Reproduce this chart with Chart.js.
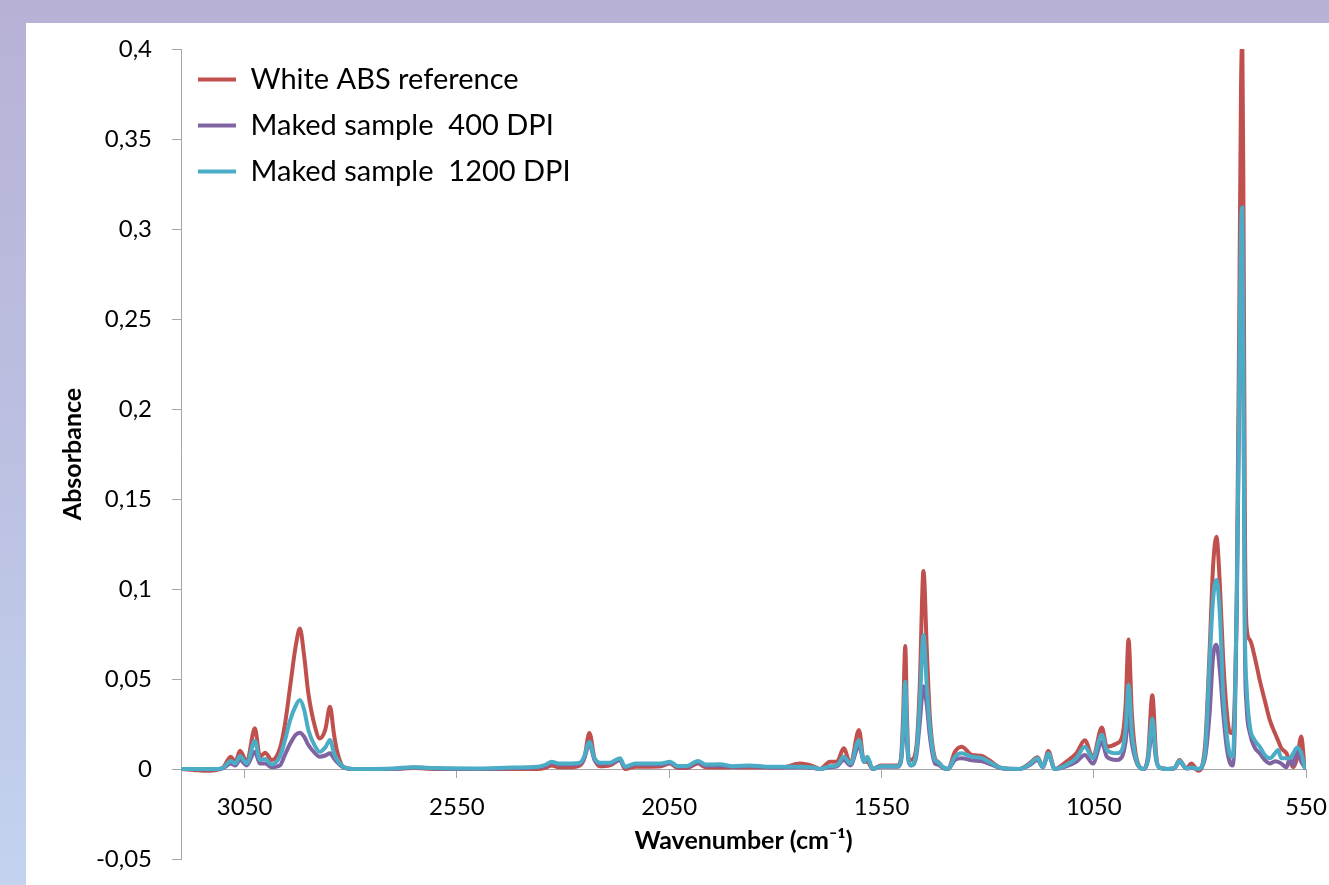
<!DOCTYPE html>
<html><head><meta charset="utf-8">
<script src="https://cdn.jsdelivr.net/npm/chart.js@4.4.1/dist/chart.umd.min.js"></script>
<style>
html,body{margin:0;padding:0;width:1329px;height:885px;overflow:hidden;
  background:linear-gradient(180deg,#b7b2d5 0%,#bcc1e2 55%,#c3d3ef 100%);}
#panel{position:absolute;left:26px;top:23px;width:1303px;height:862px;background:#fff;}
canvas{display:block}
</style></head><body>
<div id="panel"><canvas id="c" width="1303" height="862"></canvas></div>
<script>
// ---- data ----
const wavenumbers = [3200,3170,3140,3115,3100,3083,3072,3061,3045,3026,3014,3002,2986,2967,2955,2943,2930,2920,2910,2900,2885,2873,2860,2849,2840,2833,2818,2794,2700,2653,2600,2500,2420,2360,2340,2327,2310,2280,2260,2250,2238,2226,2213,2190,2166,2154,2130,2096,2070,2048,2030,2009,1982,1965,1931,1900,1860,1820,1780,1742,1710,1695,1671,1655,1639,1623,1603,1591,1583,1571,1551,1512,1504,1499,1494,1490,1486,1480,1468,1460,1451,1443,1436,1424,1417,1405,1393,1377,1361,1337,1313,1297,1266,1226,1202,1182,1170,1157,1142,1115,1091,1071,1052,1031,1019,995,983,975,968,960,948,932,922,912,903,896,876,860,848,832,820,804,788,777,769,761,753,745,737,730,723,718,713,707,703,700,697,694,690,682,671,659,647,635,623,616,608,596,588,580,571,561,553,550];

const whiteABS = [0,-0.0005,-0.001,-0.0005,0.001,0.0068,0.004,0.0102,0.004,0.0226,0.0068,0.009,0.005,0.0115,0.025,0.0457,0.068,0.078,0.063,0.042,0.024,0.017,0.022,0.0346,0.020,0.0106,0.0013,0,0,0.0005,0,0,0,0,0.0008,0.002,0.001,0.001,0.002,0.006,0.020,0.006,0.0015,0.002,0.005,0,0.0013,0.0013,0.0015,0.003,0.0005,0.0005,0.003,0.001,0.0008,0.001,0.0008,0.0008,0.001,0.003,0.0015,0,0.004,0.004,0.0115,0.003,0.0217,0.004,0.004,0,0.002,0.002,0.006,0.030,0.0683,0.030,0.006,0.005,0.012,0.045,0.110,0.065,0.029,0.006,0.004,0.001,0,0.0096,0.0124,0.0078,0.0072,0.005,0.0005,0,0.003,0.0065,0.001,0.010,0,0.004,0.0087,0.016,0.0065,0.023,0.0124,0.0143,0.018,0.035,0.072,0.030,0.0048,0,0.008,0.041,0.008,0.001,0,0.0005,0.005,0.0004,0.003,-0.001,0.0124,0.066,0.112,0.129,0.103,0.0606,0.0328,0.0207,0.0198,0.038,0.10,0.26,0.38,0.405,0.30,0.14,0.079,0.0717,0.0624,0.0494,0.038,0.027,0.0198,0.016,0.0115,0.0087,0.004,0.001,0.006,0.018,0.001,0];

const sample400 = [0,0,-0.0003,0,0.0005,0.003,0.002,0.005,0.002,0.0096,0.003,0.003,0.001,0.002,0.008,0.014,0.019,0.0202,0.018,0.0133,0.009,0.0068,0.0075,0.0087,0.006,0.004,0.001,0,0,0.0008,0.0003,0,0.0005,0.001,0.002,0.0035,0.0025,0.0025,0.003,0.006,0.014,0.005,0.003,0.003,0.005,0.001,0.0025,0.0025,0.0025,0.0035,0.0012,0.0012,0.0038,0.0018,0.0018,0.0012,0.0015,0.001,0.0008,0.001,0.0005,0,0.001,0.0015,0.005,0.002,0.013,0.004,0.006,0,0.0012,0.0012,0.004,0.018,0.033,0.015,0.004,0.002,0.007,0.025,0.046,0.035,0.018,0.003,0.0025,0.0005,0,0.005,0.006,0.0048,0.0043,0.003,0.0003,0,0.002,0.005,0.001,0.008,0,0.0015,0.004,0.0078,0.003,0.015,0.0068,0.005,0.007,0.015,0.030,0.014,0.003,0,0.005,0.022,0.005,0.0008,0,0.0003,0.004,0.0003,0.0005,0,0.006,0.031,0.062,0.069,0.055,0.031,0.0124,0.004,0.002,0.020,0.09,0.21,0.29,0.305,0.20,0.07,0.035,0.0198,0.012,0.0087,0.005,0.003,0.0043,0.004,0.003,0.001,0.006,0.002,0.0105,0.004,0.001,0];

const sample1200 = [0,0,0,0,0.0008,0.0045,0.003,0.0072,0.003,0.0155,0.005,0.0055,0.0025,0.007,0.016,0.027,0.035,0.0383,0.033,0.0217,0.013,0.0096,0.012,0.0161,0.009,0.0055,0.0013,0,0.0003,0.001,0.0005,0.0003,0.0008,0.0012,0.0025,0.004,0.003,0.003,0.0035,0.007,0.015,0.006,0.0035,0.0035,0.006,0.0013,0.003,0.003,0.003,0.004,0.0017,0.0017,0.0045,0.0025,0.0026,0.0015,0.002,0.0013,0.0013,0.0013,0.0008,0,0.0015,0.002,0.0068,0.003,0.016,0.004,0.0068,0,0.0015,0.0015,0.005,0.022,0.0485,0.020,0.005,0.002,0.009,0.035,0.0744,0.045,0.0235,0.005,0.004,0.001,0,0.0068,0.0087,0.0068,0.006,0.004,0.0005,0,0.0025,0.006,0.001,0.0087,0,0.0022,0.006,0.0124,0.006,0.019,0.0104,0.0087,0.011,0.022,0.0467,0.020,0.004,0,0.006,0.028,0.006,0.001,0,0.0005,0.0046,0.0004,0.0008,0,0.0087,0.060,0.094,0.105,0.0865,0.042,0.0198,0.0087,0.0068,0.029,0.094,0.22,0.30,0.312,0.20,0.08,0.046,0.0235,0.016,0.0124,0.0078,0.006,0.0087,0.0105,0.006,0.006,0.006,0.0087,0.012,0.0087,0.001,0];

const seriesNames = ['White ABS reference', 'Maked sample  400 DPI', 'Maked sample  1200 DPI'];
const xTickValues = [3050, 2550, 2050, 1550, 1050, 550];
const xTickLabels = ['3050', '2550', '2050', '1550', '1050', '550'];
const yTickValues = [-0.05, 0, 0.05, 0.1, 0.15, 0.2, 0.25, 0.3, 0.35, 0.4];
const yTickLabels = ['-0,05', '0', '0,05', '0,1', '0,15', '0,2', '0,25', '0,3', '0,35', '0,4'];

// ---- chart ----
const FONT = 'Lato, "Liberation Sans", sans-serif';
const AXIS = '#a6a6a6';
function pts(arr){ return wavenumbers.map((w,i)=>({x:w, y:arr[i]})); }
function ds(label, arr, color, order){
  return {label, data: pts(arr), borderColor: color, backgroundColor: color,
    borderWidth: 4, pointRadius: 0, pointHoverRadius: 0, fill: false,
    cubicInterpolationMode: 'monotone', order};
}
function noPad(s){ s.paddingLeft = 0; s.paddingRight = 0; s.paddingTop = 0; s.paddingBottom = 0; }

function draw(){
  new Chart(document.getElementById('c'), {
    type: 'line',
    data: { datasets: [
      ds(seriesNames[0], whiteABS, '#c0504d', 2),
      ds(seriesNames[1], sample400, '#8064a2', 1),
      ds(seriesNames[2], sample1200, '#4bacc6', 0)
    ]},
    options: {
      responsive: false, animation: false, devicePixelRatio: 1,
      layout: { autoPadding: false, padding: { left: 0, right: 23, top: 26, bottom: 26 } },
      plugins: {
        tooltip: { enabled: false },
        legend: {
          position: 'chartArea', align: 'start',
          title: { display: true, text: '', font: { size: 10, lineHeight: 1 },
            padding: { top: 15, bottom: 0 } },
          labels: {
            usePointStyle: true, pointStyle: 'line', pointStyleWidth: 38,
            font: { family: FONT, size: 29 }, color: '#000', padding: 17,
            sort: (a, b) => a.datasetIndex - b.datasetIndex
          }
        }
      },
      scales: {
        x: {
          type: 'linear', reverse: true, min: 550, max: 3200, bounds: 'data',
          position: { y: 0 },
          afterBuildTicks: s => { s.ticks = xTickValues.map(v => ({ value: v })); },
          afterFit: s => { s.height = 26; noPad(s); },
          grid: { drawOnChartArea: false, drawTicks: true, tickLength: 8, color: AXIS },
          border: { display: true, color: AXIS, width: 1 },
          ticks: { font: { family: FONT, size: 24 }, color: '#000', padding: 16,
            maxRotation: 0, autoSkip: false, callback: (v, i) => xTickLabels[i] },
          title: { display: true, text: 'Wavenumber (cm\u207B\u00B9)', color: '#000',
            font: { family: FONT, size: 25, weight: 'bold', lineHeight: 1 },
            padding: { top: 0, bottom: -58.5 } }
        },
        y: {
          type: 'linear', min: -0.05, max: 0.4, bounds: 'data',
          afterBuildTicks: s => { s.ticks = yTickValues.map(v => ({ value: v })); },
          afterFit: s => { s.width = 155; noPad(s); },
          grid: { drawOnChartArea: false, drawTicks: true, tickLength: 9, color: AXIS },
          border: { display: true, color: AXIS, width: 1 },
          ticks: { font: { family: FONT, size: 24 }, color: '#000', padding: 20,
            autoSkip: false, callback: (v, i) => yTickLabels[i] },
          title: { display: true, text: 'Absorbance', color: '#000',
            font: { family: FONT, size: 25, weight: 'bold', lineHeight: 1 },
            padding: { top: 34.5, bottom: 0 } }
        }
      }
    }
  });
}
if (document.fonts && document.fonts.load) {
  Promise.all([document.fonts.load('24px Lato'), document.fonts.load('bold 25px Lato')])
    .then(draw, draw);
} else { draw(); }
</script>
</body></html>
